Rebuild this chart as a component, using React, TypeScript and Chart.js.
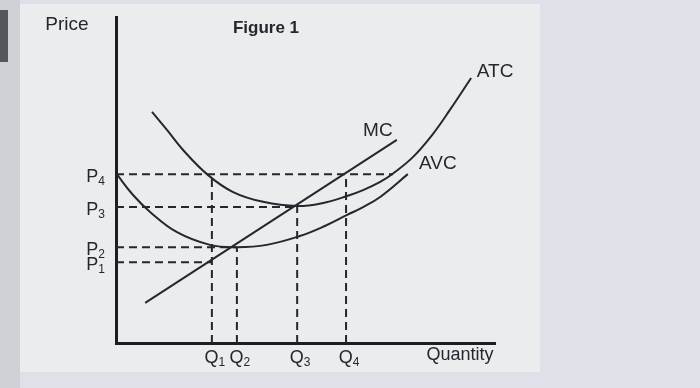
import React, { useEffect, useRef } from "react";
import { Chart, registerables } from "chart.js";

Chart.register(...registerables);

// Price levels P1..P4 and quantity levels Q1..Q4 (axis units 0..100)
const priceLevels = [24.8, 29.4, 41.7, 51.8];
const priceNames = ["1", "2", "3", "4"];
const quantityLevels = [25.3, 31.9, 47.8, 60.7];
const quantityNames = ["1", "2", "3", "4"];

// Cost curves
const atcQ = [9.5, 13.5, 17.7, 24.3, 30.9, 38.8, 47.8, 54.4, 61.0, 65.2, 69.7, 73.1, 78.4, 83.6, 88.1, 93.7];
const atcP = [70.9, 65.3, 59.2, 51.5, 46.3, 43.3, 42.0, 42.9, 45.1, 46.9, 49.4, 52.0, 57.1, 64.1, 71.5, 81.3];
const avcQ = [0, 4.5, 9.0, 16.1, 24.8, 31.9, 39.8, 48.5, 55.1, 61.0, 65.2, 69.7, 77.0];
const avcP = [52.1, 45.4, 40.2, 34.0, 30.1, 29.4, 30.1, 32.8, 35.9, 39.3, 41.7, 44.8, 51.8];
const mcQ = [7.7, 74.1];
const mcP = [12.3, 62.3];

// Right end of the P4 guide (where it meets the rising ATC)
const p4GuideEnd = 73.1;

const INK = "#26272e";
const TEXT = "#26272e";
const FONT = "'Liberation Sans', Arial, sans-serif";

const pts = (xs: number[], ys: number[]) => xs.map((x, i) => ({ x, y: ys[i] }));

export default function App() {
  const ref = useRef<HTMLCanvasElement | null>(null);

  useEffect(() => {
    if (!ref.current) return;

    const curve = (label: string, data: { x: number; y: number }[]) => ({
      label,
      data,
      showLine: true,
      borderColor: INK,
      borderWidth: 2,
      pointRadius: 0,
      tension: 0.4,
      fill: false,
    });
    const guide = (label: string, data: { x: number; y: number }[]) => ({
      label,
      data,
      showLine: true,
      borderColor: INK,
      borderWidth: 2,
      borderDash: [8, 5],
      pointRadius: 0,
      fill: false,
    });

    const hEnds = [quantityLevels[0], quantityLevels[1], quantityLevels[2], p4GuideEnd];
    const vTops = [priceLevels[3], priceLevels[1], priceLevels[2], priceLevels[3]];

    const guides = [
      ...priceLevels.map((p, i) =>
        guide("P" + priceNames[i], [
          { x: 0, y: p },
          { x: hEnds[i], y: p },
        ])
      ),
      ...quantityLevels.map((q, i) =>
        guide("Q" + quantityNames[i], [
          { x: q, y: 0 },
          { x: q, y: vTops[i] },
        ])
      ),
    ];

    const curveLabels = [
      { text: "ATC", xs: atcQ, ys: atcP, dx: 24, dy: -6 },
      { text: "MC", xs: mcQ, ys: mcP, dx: -19, dy: -9 },
      { text: "AVC", xs: avcQ, ys: avcP, dx: 30, dy: -10 },
    ];

    const labelPlugin = {
      id: "labels",
      afterDraw(chart: any) {
        const { ctx, chartArea } = chart;
        const xs = chart.scales.x;
        const ys = chart.scales.y;
        ctx.save();
        ctx.fillStyle = TEXT;
        ctx.textBaseline = "middle";

        // Titles
        ctx.font = `19px ${FONT}`;
        ctx.textAlign = "center";
        ctx.fillText("Price", chartArea.left - 49, chartArea.top + 8);
        ctx.font = `18px ${FONT}`;
        ctx.fillText("Quantity", chartArea.right - 35, chartArea.bottom + 12);
        ctx.font = `bold 17px ${FONT}`;
        ctx.fillText("Figure 1", 266, 28);

        // Curve labels
        ctx.font = `19px ${FONT}`;
        curveLabels.forEach((c) => {
          const n = c.xs.length - 1;
          const px = xs.getPixelForValue(c.xs[n]);
          const py = ys.getPixelForValue(c.ys[n]);
          ctx.fillText(c.text, px + c.dx, py + c.dy);
        });

        // Subscripted tick labels
        const drawSub = (main: string, sub: string, x: number, y: number, align: "right" | "center") => {
          ctx.font = `18px ${FONT}`;
          const w1 = ctx.measureText(main).width;
          ctx.font = `12px ${FONT}`;
          const w2 = ctx.measureText(sub).width;
          const total = w1 + w2;
          const left = align === "right" ? x - total : x - total / 2;
          ctx.textAlign = "left";
          ctx.font = `18px ${FONT}`;
          ctx.fillText(main, left, y);
          ctx.font = `12px ${FONT}`;
          ctx.fillText(sub, left + w1, y + 5);
        };
        priceLevels.forEach((p, i) => {
          drawSub("P", priceNames[i], chartArea.left - 11, ys.getPixelForValue(p) + 3, "right");
        });
        quantityLevels.forEach((q, i) => {
          drawSub("Q", quantityNames[i], xs.getPixelForValue(q) + 3, chartArea.bottom + 15, "center");
        });
        ctx.restore();
      },
    };

    const chart = new Chart(ref.current, {
      type: "scatter",
      data: {
        datasets: [
          curve("ATC", pts(atcQ, atcP)),
          curve("AVC", pts(avcQ, avcP)),
          curve("MC", pts(mcQ, mcP)),
          ...guides,
        ] as any,
      },
      options: {
        animation: false,
        responsive: false,
        maintainAspectRatio: false,
        layout: { padding: { left: 116, right: 205, top: 17, bottom: 45 } },
        plugins: { legend: { display: false }, tooltip: { enabled: false }, title: { display: false } },
        scales: {
          x: {
            type: "linear",
            min: 0,
            max: 100,
            grid: { display: false, drawTicks: false },
            ticks: { display: false },
            border: { display: true, color: "#1d1e22", width: 3 },
          },
          y: {
            type: "linear",
            min: 0,
            max: 100,
            grid: { display: false, drawTicks: false },
            ticks: { display: false },
            border: { display: true, color: "#1d1e22", width: 3 },
          },
        },
      },
      plugins: [labelPlugin],
    });
    return () => chart.destroy();
  }, []);

  return (
    <div style={{ position: "fixed", left: 0, top: 0, width: 700, height: 388, background: "#dfe1e9", overflow: "hidden" }}>
      <div style={{ position: "absolute", left: 0, top: 0, width: 20, height: 388, background: "#cfd1d6" }} />
      <div style={{ position: "absolute", left: 0, top: 10, width: 8, height: 52, background: "#55565c" }} />
      <div style={{ position: "absolute", left: 20, top: 4, width: 520, height: 368, background: "#ebecee" }} />
      <canvas ref={ref} width={700} height={388} style={{ position: "absolute", left: 0, top: 0, width: 700, height: 388 }} />
    </div>
  );
}
